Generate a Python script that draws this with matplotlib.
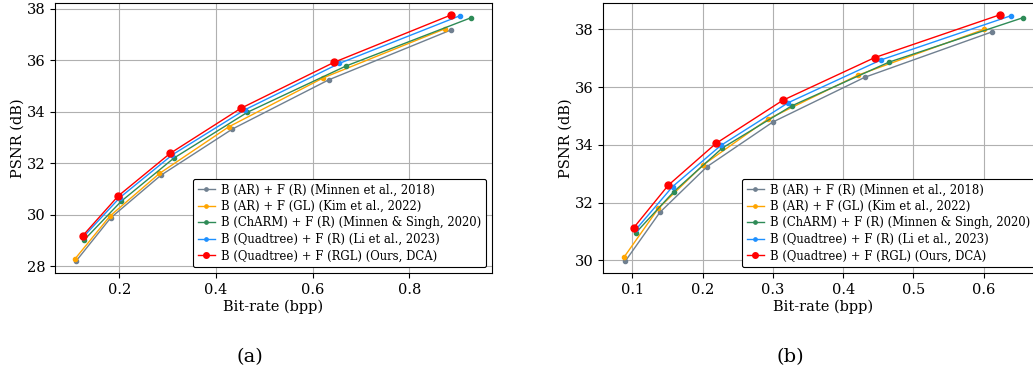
import numpy as np
import matplotlib
matplotlib.use('Agg')
import matplotlib.pyplot as plt

plt.rcParams['font.family'] = 'DejaVu Serif'

#%% data

labels = ['B (AR) + F (R) (Minnen et al., 2018)',
          'B (AR) + F (GL) (Kim et al., 2022)',
          'B (ChARM) + F (R) (Minnen & Singh, 2020)',
          'B (Quadtree) + F (R) (Li et al., 2023)',
          'B (Quadtree) + F (RGL) (Ours, DCA)']

# (a)
bpp_a_minnen18 = [0.110, 0.182, 0.286, 0.434, 0.633, 0.886]
psnr_a_minnen18 = [28.18, 29.87, 31.53, 33.33, 35.24, 37.18]
bpp_a_kim22 = [0.108, 0.181, 0.283, 0.426, 0.622, 0.874]
psnr_a_kim22 = [28.27, 29.95, 31.60, 33.41, 35.32, 37.23]
bpp_a_charm = [0.127, 0.204, 0.313, 0.465, 0.669, 0.928]
psnr_a_charm = [29.01, 30.52, 32.20, 33.98, 35.78, 37.66]
bpp_a_li23 = [0.125, 0.201, 0.310, 0.460, 0.655, 0.904]
psnr_a_li23 = [29.12, 30.66, 32.33, 34.08, 35.88, 37.73]
bpp_a_ours = [0.124, 0.198, 0.305, 0.451, 0.645, 0.887]
psnr_a_ours = [29.17, 30.73, 32.38, 34.13, 35.93, 37.77]

# (b)
bpp_b_minnen18 = [0.090, 0.139, 0.206, 0.300, 0.431, 0.612]
psnr_b_minnen18 = [29.98, 31.66, 33.24, 34.79, 36.34, 37.91]
bpp_b_kim22 = [0.088, 0.137, 0.201, 0.293, 0.421, 0.601]
psnr_b_kim22 = [30.11, 31.80, 33.31, 34.89, 36.41, 38.00]
bpp_b_charm = [0.105, 0.159, 0.228, 0.327, 0.465, 0.656]
psnr_b_charm = [30.96, 32.38, 33.89, 35.35, 36.86, 38.40]
bpp_b_li23 = [0.105, 0.157, 0.226, 0.322, 0.454, 0.639]
psnr_b_li23 = [31.07, 32.55, 33.98, 35.46, 36.94, 38.47]
bpp_b_ours = [0.1015, 0.151, 0.219, 0.314, 0.445, 0.623]
psnr_b_ours = [31.12, 32.60, 34.05, 35.54, 37.02, 38.50]

colors = ['slategray', 'orange', 'seagreen', 'dodgerblue', 'red']

#%% plot

fig = plt.figure(figsize=(10.33, 3.69), dpi=100)
W, H = 1033., 369.

axA = fig.add_axes([55/W, 96/H, 437/W, 270/H])
axB = fig.add_axes([603/W, 96/H, 440/W, 270/H])

dataA = [(bpp_a_minnen18, psnr_a_minnen18), (bpp_a_kim22, psnr_a_kim22),
         (bpp_a_charm, psnr_a_charm), (bpp_a_li23, psnr_a_li23),
         (bpp_a_ours, psnr_a_ours)]
dataB = [(bpp_b_minnen18, psnr_b_minnen18), (bpp_b_kim22, psnr_b_kim22),
         (bpp_b_charm, psnr_b_charm), (bpp_b_li23, psnr_b_li23),
         (bpp_b_ours, psnr_b_ours)]

legkw = dict(fontsize=8.4, handlelength=1.45, handletextpad=0.55,
             labelspacing=0.3, borderpad=0.4, framealpha=1,
             edgecolor='black', markerscale=0.8)

for ax, data in [(axA, dataA), (axB, dataB)]:
    for k in range(5):
        ms = 5 if k == 4 else 3
        ax.plot(data[k][0], data[k][1], '-o', color=colors[k], lw=1,
                ms=ms, label=labels[k], zorder=3+k)
    ax.grid(True, color='#b0b0b0', lw=0.8)
    ax.set_axisbelow(True)
    ax.set_xlabel('Bit-rate (bpp)', fontsize=10.5, labelpad=2)
    ax.set_ylabel('PSNR (dB)', fontsize=10.5, labelpad=1)
    ax.tick_params(labelsize=10.5)

axA.set_xlim(0.067, 0.971)
axA.set_ylim(27.73, 38.23)
axA.set_xticks([0.2, 0.4, 0.6, 0.8])
axA.set_yticks([28, 30, 32, 34, 36, 38])
legA = axA.legend(loc='lower left', bbox_to_anchor=(193/W, 102/H),
                  bbox_transform=fig.transFigure, borderaxespad=0, **legkw)
legA.get_frame().set_linewidth(0.8)

axB.set_xlim(0.058, 0.6846)
axB.set_ylim(29.56, 38.91)
axB.set_xticks([0.1, 0.2, 0.3, 0.4, 0.5, 0.6])
axB.set_yticks([30, 32, 34, 36, 38])
# legend of (b) runs off the right edge of the image
legB = axB.legend(loc='lower left', bbox_to_anchor=(742/W, 102/H),
                  bbox_transform=fig.transFigure, borderaxespad=0, **legkw)
legB.get_frame().set_linewidth(0.8)

fig.text(250/W, 1-357/H, '(a)', ha='center', va='center', fontsize=14)
fig.text(790/W, 1-357/H, '(b)', ha='center', va='center', fontsize=14)

fig.savefig('out.png', dpi=100)
